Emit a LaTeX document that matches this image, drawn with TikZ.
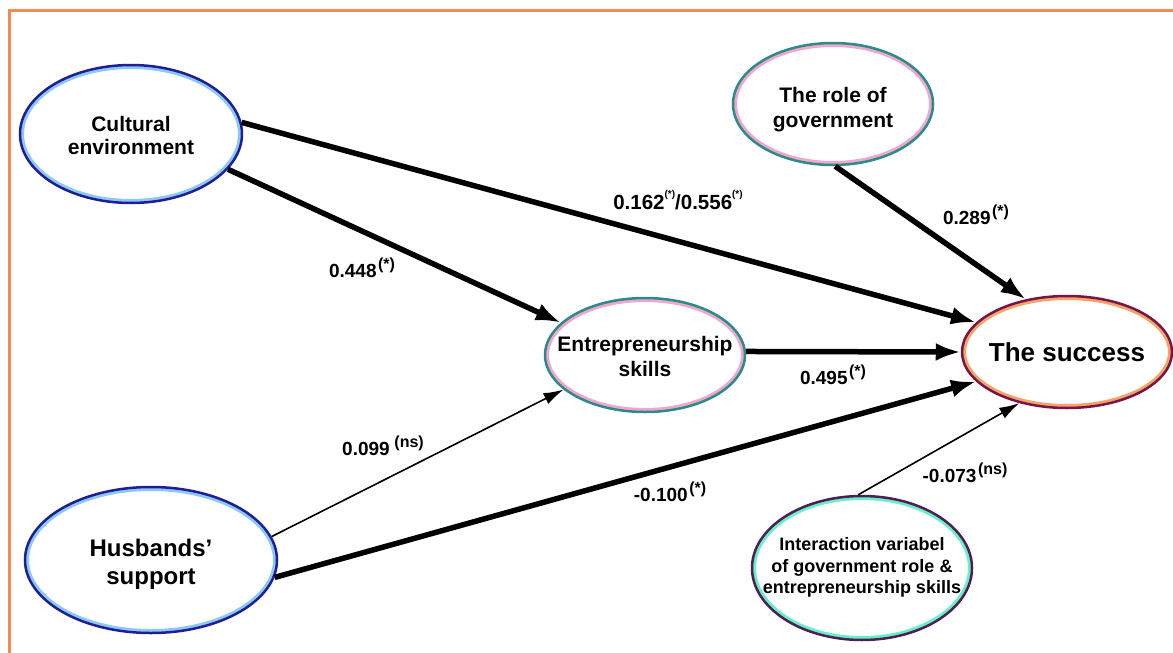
\documentclass[tikz,border=0pt]{standalone}
\usepackage{fontspec}
\setmainfont{Liberation Sans}
\usetikzlibrary{arrows.meta,shapes.geometric,calc,positioning}

\definecolor{framecol}{HTML}{F68A52}
\definecolor{navyline}{HTML}{1E1E96}
\definecolor{skyring}{HTML}{8CC8F2}
\definecolor{tealline}{HTML}{2A8C84}
\definecolor{pinkring}{HTML}{F2A6CF}
\definecolor{maroonline}{HTML}{7A1446}
\definecolor{peachring}{HTML}{F4A468}
\definecolor{plumline}{HTML}{4E1E56}
\definecolor{mintring}{HTML}{66F0C4}

\newcommand{\ovaltext}[2][4pt]{\makebox[0pt]{\raisebox{-#1}[\height][\depth]{\begin{tabular}{@{}c@{}}#2\end{tabular}}}}
\newcommand{\sig}[1]{\hspace{1.5pt}\raisebox{0.42em}{\fontsize{16}{16}\selectfont#1}}
\newcommand{\sigsmall}[1]{\raisebox{0.6em}{\fontsize{10}{10}\selectfont#1}}

\tikzset{
  latent/.style 2 args={ellipse, draw=#1, line width=2.5pt, fill=white, inner sep=0pt,
    path picture={\draw[#2, line width=8pt]
      let \p1=(path picture bounding box.center), \p2=(path picture bounding box.north east)
      in (\p1) ellipse ({\x2-\x1} and {\y2-(\y1)});}},
  heavy/.style={line width=5.5pt, -{Latex[length=25pt,width=18pt]}},
  light/.style={line width=1.6pt, -{Latex[length=20pt,width=12pt]}},
  coef/.style={font=\fontsize{19}{19}\selectfont\bfseries, inner sep=1pt}
}

\begin{document}
\begin{tikzpicture}[x=1pt, y=-1pt]
  \useasboundingbox (0,0) rectangle (1173,653);
  \draw[framecol, line width=3pt] (1173,10) -- (9,10) -- (9,653);

  % constructs
  \node[latent={navyline}{skyring}, minimum width=222pt, minimum height=138pt,
    font=\fontsize{21}{23}\selectfont\bfseries] (cult) at (131,134)
    {\ovaltext{Cultural\\environment}};
  \node[latent={tealline}{pinkring}, minimum width=200pt, minimum height=122pt,
    font=\fontsize{21}{25}\selectfont\bfseries] (role) at (833,104)
    {\ovaltext[6pt]{The role of\\government}};
  \node[latent={maroonline}{peachring}, minimum width=210pt, minimum height=112pt,
    font=\fontsize{26}{28}\selectfont\bfseries] (succ) at (1067,352)
    {\ovaltext{The success}};
  \node[latent={tealline}{pinkring}, minimum width=200pt, minimum height=114pt,
    font=\fontsize{21}{25}\selectfont\bfseries] (entre) at (645,355)
    {\ovaltext{Entrepreneurship\\skills}};
  \node[latent={navyline}{skyring}, minimum width=252pt, minimum height=146pt,
    font=\fontsize{24}{28}\selectfont\bfseries] (hus) at (151,560)
    {\ovaltext[5pt]{Husbands’\\support}};
  \node[latent={plumline}{mintring}, minimum width=220pt, minimum height=144pt,
    font=\fontsize{18}{21.5}\selectfont\bfseries] (inter) at (862,568)
    {\ovaltext[0pt]{Interaction variabel\\of government role \&\\entrepreneurship skills}};

  % paths
  \path (cult.6) edge[heavy] (succ.162)
        (cult.-20) edge[heavy] (entre.159)
        (role.-88) edge[heavy] (succ.128)
        (entre.2) edge[heavy] (succ.180)
        (hus.11) edge[light] (entre.203)
        (hus.-8) edge[heavy] (succ.198)
        (inter.93) edge[light] (succ.227);

  % coefficients
  \node[coef, font=\fontsize{20.5}{20.5}\selectfont\bfseries] (c-cs) at (678,200)
    {0.162\sigsmall{(*)}/0.556\sigsmall{(*)}};
  \node[coef] (c-ce) at (362,268) {0.448\sig{(*)}};
  \node[coef] (c-rs) at (976,215) {0.289\sig{(*)}};
  \node[coef] (c-es) at (833,375) {0.495\sig{(*)}};
  \node[coef] (c-he) at (383,446) {0.099\,\sig{(ns)}};
  \node[coef] (c-hs) at (670,492) {-0.100\sig{(*)}};
  \node[coef] (c-is) at (965,473) {-0.073\sig{(ns)}};
\end{tikzpicture}
\end{document}
